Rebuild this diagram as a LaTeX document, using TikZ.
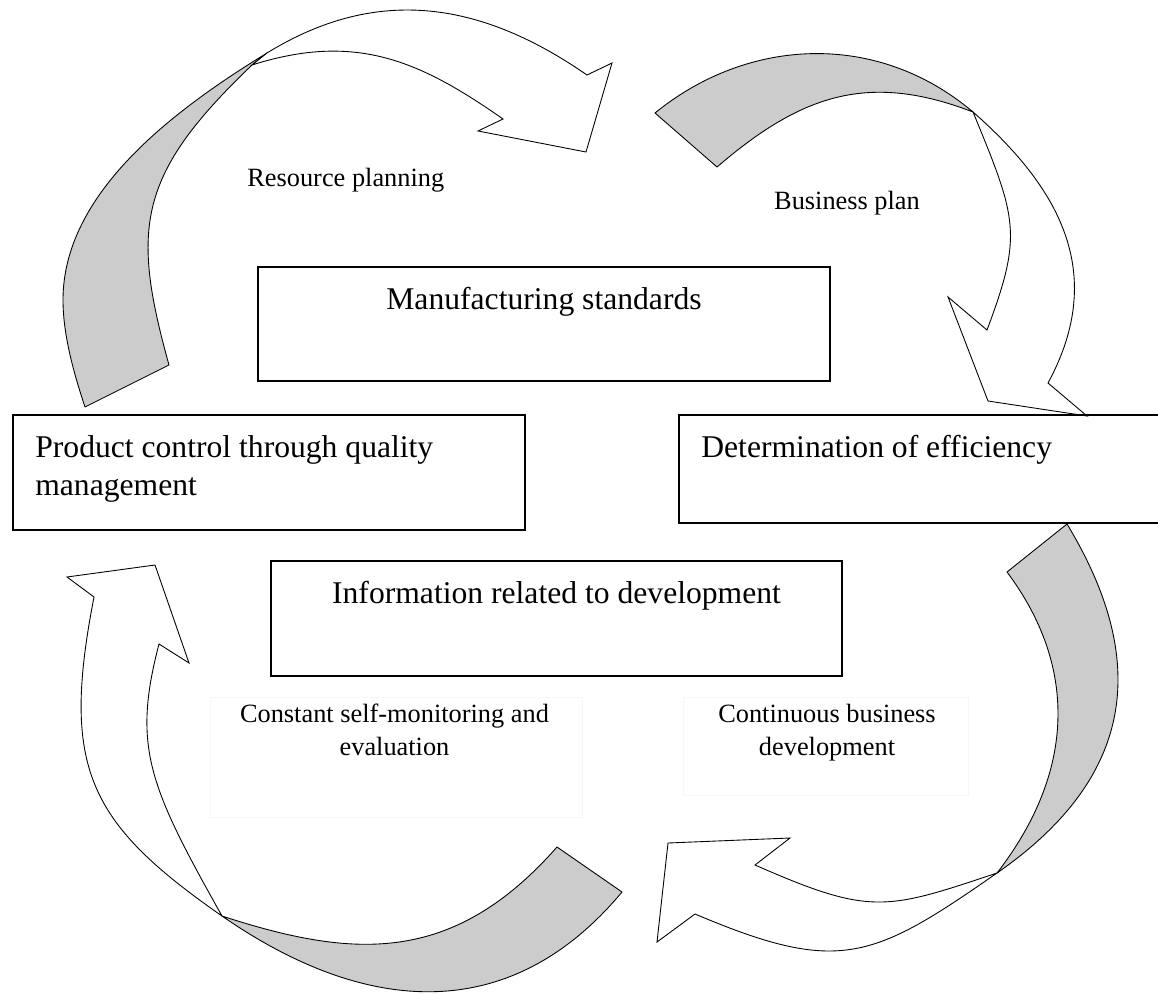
\documentclass[tikz,border=0pt]{standalone}
\usepackage{fontspec}
\setmainfont{Liberation Serif}
\definecolor{bandgrey}{RGB}{204, 204, 204}
\tikzset{
    stdbox/.style={draw, line width=1.1pt, inner sep=0pt, outer sep=0pt},
    bigtext/.style={font=\fontsize{18}{21.6}\selectfont, inner sep=0pt},
    smalltext/.style={font=\fontsize{15}{18.8}\selectfont, align=center,
        inner sep=0pt},
    faintframe/.style={draw=black!3, line width=0.4pt, inner sep=0pt},
    back/.style={draw, fill=bandgrey, line width=0.5pt, line join=round},
    front/.style={draw, fill=white, line width=0.5pt, line join=miter},
}

\begin{document}
\begin{tikzpicture}[x=0.02cm, y=-0.02cm]
        \useasboundingbox (0, 0) rectangle (1158, 993);

        % top left arrow
        \filldraw[back] (85, 407) .. controls (74, 374) and (63, 335) .. (63, 300)
            .. controls (63, 195) and (169, 113) .. (267, 53) -- (252, 65)
            .. controls (137, 175) and (131, 228) .. (169, 365) -- cycle;
        \filldraw[front] (267, 53) .. controls (379, -16) and (483, 3) .. (587, 75)
            -- (612, 63) -- (586, 152) -- (478, 131) -- (503, 119)
            .. controls (420, 61) and (356, 32) .. (252, 65) -- cycle;

        % top right arrow
        \filldraw[back] (655, 113) .. controls (747, 38) and (876, 30) .. (973, 112)
            .. controls (869, 72) and (802, 94) .. (717, 167) -- cycle;
        \filldraw[front] (973, 112) .. controls (1063, 191) and (1106, 276) .. (1048, 383)
            -- (1087, 416) -- (988, 401) -- (948, 297) -- (987, 330)
            .. controls (1023, 234) and (1017, 219) .. (973, 112) -- cycle;

        % bottom right arrow
        \filldraw[back] (1067, 524) .. controls (1148, 658) and (1138, 775) .. (997, 873)
            .. controls (1075, 772) and (1078, 667) .. (1007, 572) -- cycle;
        \filldraw[front] (997, 873) .. controls (872, 960) and (839, 975) .. (695, 914)
            -- (657, 942) -- (668, 843) -- (790, 838) -- (755, 865)
            .. controls (871, 916) and (886, 910) .. (997, 873) -- cycle;

        % bottom left arrow
        \filldraw[back] (622, 892) .. controls (506, 1031) and (359, 1011) .. (222, 916)
            .. controls (354, 959) and (453, 965) .. (557, 847) -- cycle;
        \filldraw[front] (222, 916) .. controls (87, 822) and (61, 767) .. (94, 597)
            -- (67, 577) -- (155, 565) -- (189, 663) -- (159, 644)
            .. controls (132, 747) and (149, 786) .. (222, 916) -- cycle;

        % boxes
        \node[stdbox, minimum width=11.44cm, minimum height=2.28cm]
            (manubox) at (544, 324) {};
        \node[bigtext, anchor=base] (manutext) at (544, 309)
            {Manufacturing standards};
        \node[stdbox, minimum width=10.24cm, minimum height=2.3cm]
            (prodbox) at (269, 472.5) {};
        \node[bigtext, align=left, anchor=north west] (prodtext) at (35, 435)
            {Product control through quality\\management};
        \node[stdbox, minimum width=9.8cm, minimum height=2.16cm]
            (effbox) at (924, 469) {};
        \node[bigtext, anchor=base west] (efftext) at (701, 457)
            {Determination of efficiency};
        \node[stdbox, minimum width=11.42cm, minimum height=2.3cm]
            (infobox) at (556.5, 618.5) {};
        \node[bigtext, anchor=base] (infotext) at (556.5, 603)
            {Information related to development};

        % arrow labels
        \node[smalltext, anchor=base west] (resource) at (247, 187)
            {Resource planning};
        \node[smalltext, anchor=base] (business) at (847, 209)
            {Business plan};
        \node[faintframe, minimum width=7.44cm, minimum height=2.4cm]
            (selfframe) at (396, 757) {};
        \node[smalltext, anchor=north] (selfmon) at (394.5, 704)
            {Constant self-monitoring and\\evaluation};
        \node[faintframe, minimum width=5.7cm, minimum height=1.96cm]
            (contframe) at (825.5, 746) {};
        \node[smalltext, anchor=north] (contdev) at (827, 704)
            {Continuous business\\development};
    \end{tikzpicture}
\end{document}
